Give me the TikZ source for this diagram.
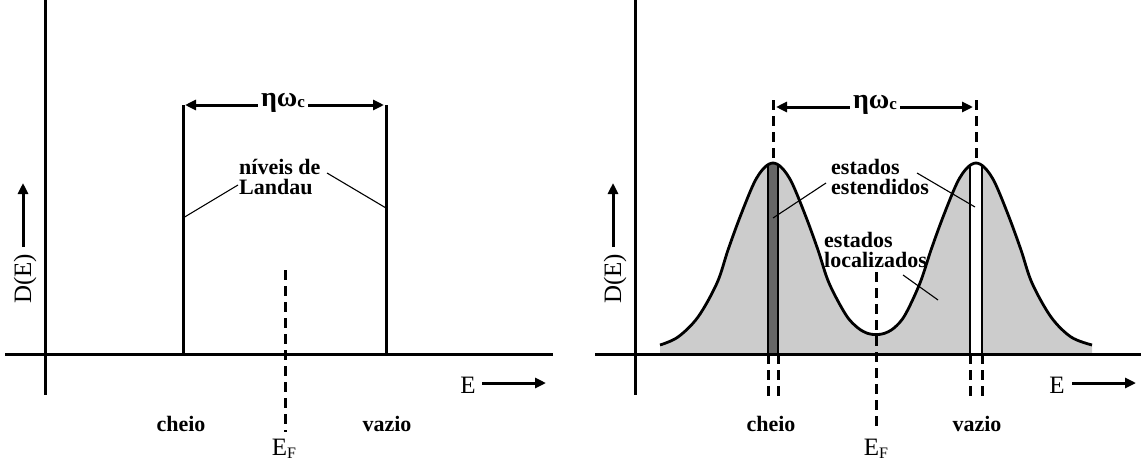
\documentclass[tikz,border=0pt]{standalone}
\usepackage{fontspec}
\setmainfont{Liberation Serif}
\usetikzlibrary{arrows.meta}
\definecolor{lightfill}{HTML}{CCCCCC}
\definecolor{darkfill}{HTML}{666666}
\tikzset{
  axis/.style={line width=3pt},
  level/.style={line width=3pt},
  dashline/.style={line width=3pt, dash pattern=on 10pt off 6pt},
  leader/.style={line width=1.1pt},
  arr/.style={line width=3pt, -{Triangle[length=11pt,width=10pt]}},
  blbl/.style={font=\fontsize{22}{20}\selectfont\bfseries, inner sep=0pt},
  rlbl/.style={font=\fontsize{25}{25}\selectfont, inner sep=0pt},
  hw/.style={font=\fontsize{28}{28}\selectfont\bfseries, inner sep=3pt},
}
\newcommand{\EF}{E\raisebox{-0.25ex}{\fontsize{16}{16}\selectfont F}}
\newcommand{\hwc}{ηω\raisebox{-0.1ex}{\fontsize{17}{17}\selectfont c}}
\begin{document}
\begin{tikzpicture}[x=1pt,y=-1pt]
\useasboundingbox (0,0) rectangle (1142,463);
% ================= LEFT PANEL =================
\coordinate (LyT) at (45,0);
\coordinate (LyB) at (45,395);
\coordinate (LxL) at (5,354);
\coordinate (LxR) at (553,354);
\draw[axis] (LyT) -- (LyB);
\draw[axis] (LxL) -- (LxR);
% D(E)
\node[rlbl, rotate=90] (LD) at (25,279) {D(E)};
\coordinate (LDa) at (23,247);
\coordinate (LDb) at (23,183);
\draw[arr] (LDa) -- (LDb);
% E arrow
\node[rlbl] (LE) at (468,385) {E};
\coordinate (LEa) at (482,383);
\coordinate (LEb) at (546,383);
\draw[arr] (LEa) -- (LEb);
% Landau levels
\coordinate (L1t) at (183,105);
\coordinate (L1b) at (183,354);
\coordinate (L2t) at (386,105);
\coordinate (L2b) at (386,354);
\draw[level] (L1t) -- (L1b);
\draw[level] (L2t) -- (L2b);
% hbar omega_c
\node[hw] (Lhw) at (283,103) {\hwc};
\coordinate (Lhwa) at (185,105);
\coordinate (Lhwb) at (384,105);
\draw[arr] (Lhw.west |- Lhwa) -- (Lhwa);
\draw[arr] (Lhw.east |- Lhwb) -- (Lhwb);
% niveis de Landau
\node[blbl, anchor=west, align=left] (Lniv) at (239,177) {níveis de\\Landau};
\coordinate (Lln1a) at (238,185);
\coordinate (Lln1b) at (183,218);
\coordinate (Lln2a) at (327,173);
\coordinate (Lln2b) at (386,208);
\draw[leader] (Lln1a) -- (Lln1b);
\draw[leader] (Lln2a) -- (Lln2b);
% E_F
\coordinate (LFt) at (285,270);
\coordinate (LFb) at (285,432);
\draw[dashline] (LFt) -- (LFb);
\node[blbl] (Lch) at (181,424) {cheio};
\node[blbl] (Lva) at (387,424) {vazio};
\node[rlbl] (LEF) at (284,449) {\EF};
% ================= RIGHT PANEL =================
\path[save path=\areapath] (660,354) -- plot[smooth, tension=0.55] coordinates {
 (660,345) (678,337) (698,317) (717,283) (728,250) (740,217) (754,183) (764,168) (773,163)
 (782,168) (792,183) (806,217) (818,250) (829,283) (846,315) (858,328) (868,333.5) (876,334.5) (884,333.5)
 (894,328) (905,315) (920,283) (931,250) (943,217) (957,183) (967,168) (976,163) (985,168) (995,183)
 (1009,217) (1021,250) (1032,283) (1051,317) (1071,337) (1092,345)} -- (1092,354) -- cycle;
\fill[lightfill, use path=\areapath];
\begin{scope}
  \clip[use path=\areapath];
  \fill[darkfill] (768,120) rectangle (778,354);
  \fill[white] (970,120) rectangle (982,354);
  \draw[line width=2.6pt] (768,120) -- (768,354) (778,120) -- (778,354)
                          (970,120) -- (970,354) (982,120) -- (982,354);
\end{scope}
\draw[line width=2.8pt, line join=round] plot[smooth, tension=0.55] coordinates {
 (660,345) (678,337) (698,317) (717,283) (728,250) (740,217) (754,183) (764,168) (773,163)
 (782,168) (792,183) (806,217) (818,250) (829,283) (846,315) (858,328) (868,333.5) (876,334.5) (884,333.5)
 (894,328) (905,315) (920,283) (931,250) (943,217) (957,183) (967,168) (976,163) (985,168) (995,183)
 (1009,217) (1021,250) (1032,283) (1051,317) (1071,337) (1092,345)};
\coordinate (RyT) at (635,0);
\coordinate (RyB) at (635,395);
\coordinate (RxL) at (595,354);
\coordinate (RxR) at (1141,354);
\draw[axis] (RyT) -- (RyB);
\draw[axis] (RxL) -- (RxR);
% D(E)
\node[rlbl, rotate=90] (RD) at (615,279) {D(E)};
\coordinate (RDa) at (613,247);
\coordinate (RDb) at (613,183);
\draw[arr] (RDa) -- (RDb);
% E arrow
\node[rlbl] (RE) at (1057,385) {E};
\coordinate (REa) at (1072,383);
\coordinate (REb) at (1136,383);
\draw[arr] (REa) -- (REb);
% top dashed
\coordinate (Rt1a) at (773,100);
\coordinate (Rt1b) at (773,163);
\coordinate (Rt2a) at (976,100);
\coordinate (Rt2b) at (976,163);
\draw[dashline] (Rt1a) -- (Rt1b);
\draw[dashline] (Rt2a) -- (Rt2b);
\node[hw] (Rhw) at (875,105) {\hwc};
\coordinate (Rhwa) at (776,107);
\coordinate (Rhwb) at (973,107);
\draw[arr] (Rhw.west |- Rhwa) -- (Rhwa);
\draw[arr] (Rhw.east |- Rhwb) -- (Rhwb);
% bottom dashed pairs
\coordinate (Rb1a) at (768,354); \coordinate (Rb1b) at (768,400);
\coordinate (Rb2a) at (778,354); \coordinate (Rb2b) at (778,400);
\coordinate (Rb3a) at (970,354); \coordinate (Rb3b) at (970,400);
\coordinate (Rb4a) at (982,354); \coordinate (Rb4b) at (982,400);
\draw[dashline] (Rb1a) -- (Rb1b);
\draw[dashline] (Rb2a) -- (Rb2b);
\draw[dashline] (Rb3a) -- (Rb3b);
\draw[dashline] (Rb4a) -- (Rb4b);
% E_F
\coordinate (RFt) at (876,272);
\coordinate (RFb) at (876,432);
\draw[dashline] (RFt) -- (RFb);
% labels
\node[blbl, anchor=west, align=left] (Rest) at (831,177) {estados\\estendidos};
\coordinate (Rl1a) at (826,183);
\coordinate (Rl1b) at (773,218);
\coordinate (Rl2a) at (917,173);
\coordinate (Rl2b) at (975,207);
\draw[leader] (Rl1a) -- (Rl1b);
\draw[leader] (Rl2a) -- (Rl2b);
\node[blbl, anchor=west, align=left] (Rloc) at (824,250) {estados\\localizados};
\coordinate (Rl3a) at (903,275);
\coordinate (Rl3b) at (938,300);
\draw[leader] (Rl3a) -- (Rl3b);
\node[blbl] (Rch) at (771,424) {cheio};
\node[blbl] (Rva) at (977,424) {vazio};
\node[rlbl] (REF) at (876,449) {\EF};
\end{tikzpicture}
\end{document}
